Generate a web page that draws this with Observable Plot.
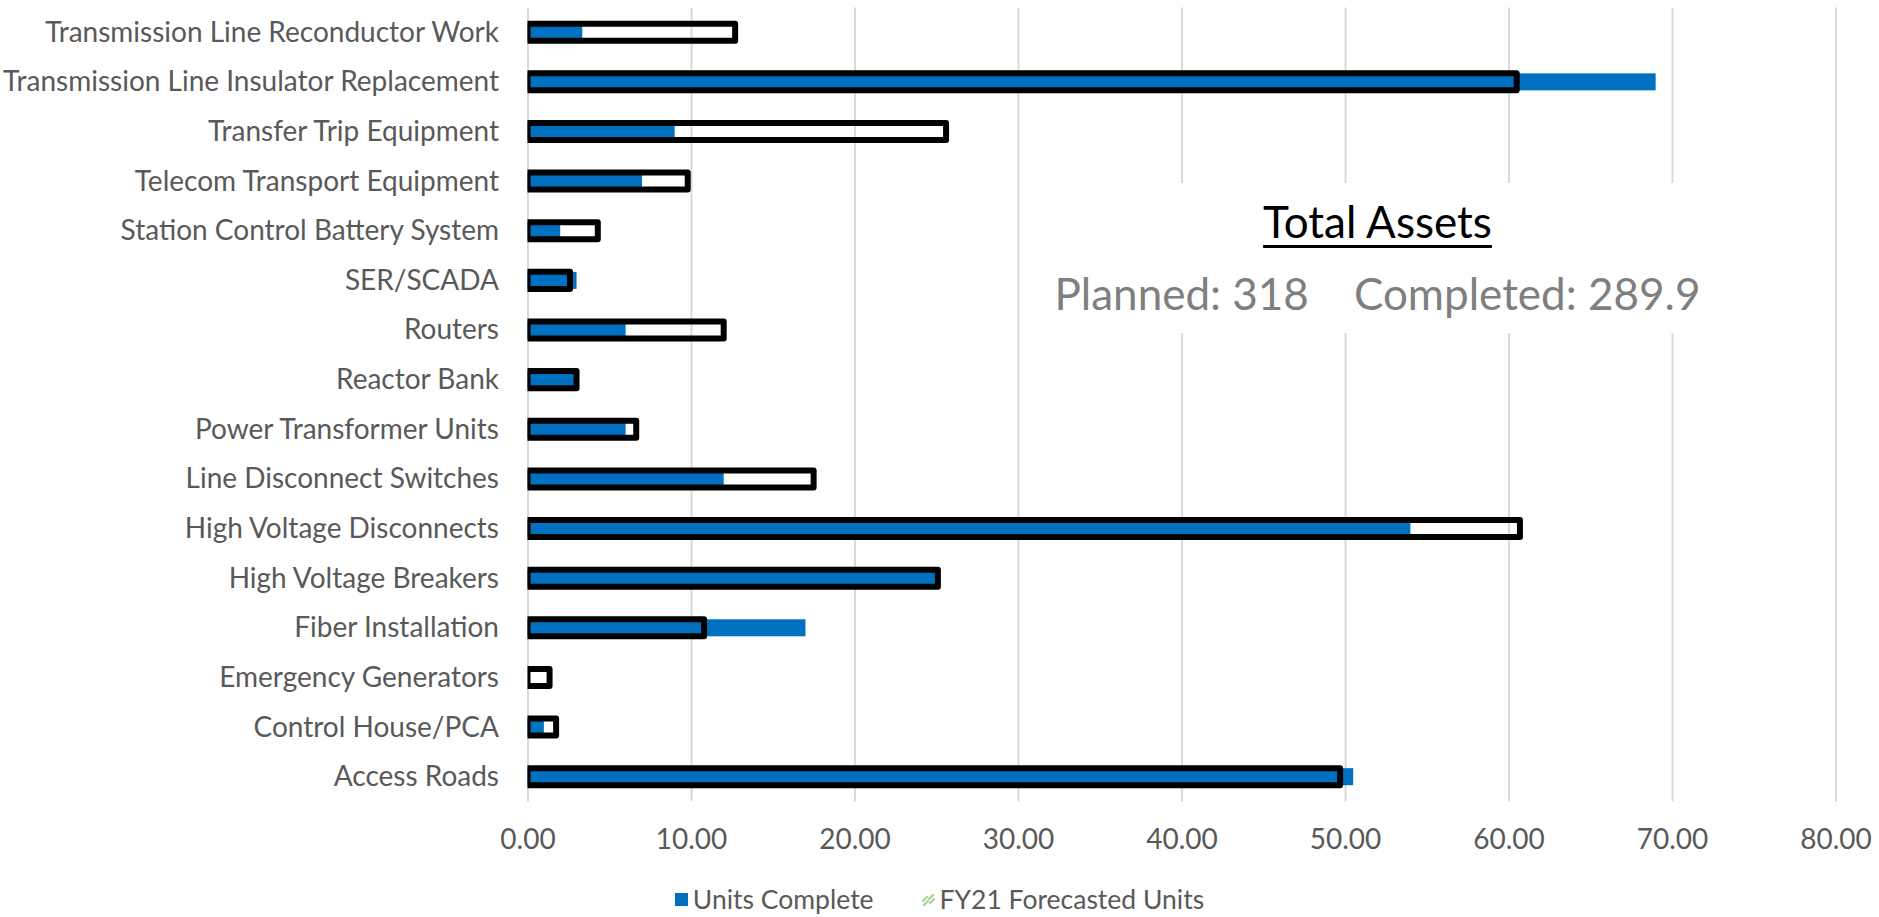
<!DOCTYPE html>
<html>
<head>
<meta charset="utf-8">
<script src="https://cdn.jsdelivr.net/npm/d3@7"></script>
<script src="https://cdn.jsdelivr.net/npm/@observablehq/plot@0.6"></script>
<style>
  html, body { margin: 0; padding: 0; background: white; }
  #wrap { position: relative; width: 1879px; height: 917px; font-family: Lato, sans-serif; overflow: hidden; }
  #annot { position: absolute; left: 1040px; top: 183px; width: 675px; height: 150px; background: white; }
  #annot .t1 { position: absolute; left: 0; width: 100%; top: 16px; font-size: 44px; line-height: 44px; text-align: center; color: #000;
    text-decoration: underline; text-decoration-thickness: 3px; text-underline-offset: 7px; }
  #annot .t2 { position: absolute; left: 0; width: 100%; top: 88px; font-size: 44px; line-height: 44px; text-align: center; color: #7f7f7f; white-space: pre; }
  #legend { position: absolute; left: 0; top: 880px; width: 1879px; height: 38px; display: flex; justify-content: center; align-items: center;
    font-size: 26.5px; color: #595959; gap: 48px; }
  #legend .item { display: flex; align-items: center; gap: 5px; }
</style>
</head>
<body>
<div id="wrap">
  <div id="chart"></div>
  <div id="annot"><div class="t1">Total Assets</div><div class="t2">Planned: 318    Completed: 289.9</div></div>
  <div id="legend"></div>
</div>
<script>
const categories = [
  "Transmission Line Reconductor Work",
  "Transmission Line Insulator Replacement",
  "Transfer Trip Equipment",
  "Telecom Transport Equipment",
  "Station Control Battery System",
  "SER/SCADA",
  "Routers",
  "Reactor Bank",
  "Power Transformer Units",
  "Line Disconnect Switches",
  "High Voltage Disconnects",
  "High Voltage Breakers",
  "Fiber Installation",
  "Emergency Generators",
  "Control House/PCA",
  "Access Roads"
];
const unitsComplete = [3.35, 69.0, 9.0, 7.0, 2.0, 3.0, 6.0, 3.0, 6.0, 12.0, 54.0, 25.0, 17.0, 0, 1.0, 50.5];
const forecastUnits = [12.7, 60.5, 25.6, 9.8, 4.3, 2.6, 12.0, 3.0, 6.65, 17.5, 60.7, 25.1, 10.8, 1.35, 1.75, 49.7];
const xTicks = [0, 10, 20, 30, 40, 50, 60, 70, 80];
const seriesNames = ["Units Complete", "FY21 Forecasted Units"];

const data = categories.map((c, i) => ({category: c, complete: unitsComplete[i], forecast: forecastUnits[i]}));

const chart = Plot.plot({
  width: 1879,
  height: 870,
  marginLeft: 527.5,
  marginRight: 43.5,
  marginTop: 7.4,
  marginBottom: 68.5,
  style: {fontFamily: "Lato, sans-serif", fontSize: "28px", color: "#595959", background: "white"},
  x: {domain: [0, 80], ticks: xTicks, tickFormat: d3.format(".2f"), tickSize: 0, tickPadding: 27, label: null},
  y: {domain: categories, paddingInner: 0.657, paddingOuter: 0.3285, round: false, tickSize: 0, tickPadding: 29, label: null},
  marks: [
    Plot.ruleX(xTicks, {stroke: "#d9d9d9", strokeWidth: 2}),
    Plot.barX(data, {x: "complete", y: "category", fill: "#0070C0"}),
    Plot.barX(data, {x: "forecast", y: "category", fill: "none", stroke: "#000", strokeWidth: 6, strokeLinejoin: "round", clip: true})
  ]
});
document.getElementById("chart").appendChild(chart);

const legend = document.getElementById("legend");
const sw1 = `<svg width="13" height="13"><rect width="13" height="13" fill="#0070C0"/></svg>`;
const sw2 = `<svg width="13" height="13"><g stroke="#a9d18e" stroke-width="2.2" stroke-linecap="round">
  <line x1="1" y1="8" x2="5" y2="4"/><line x1="7" y1="6" x2="11" y2="2"/><line x1="2" y1="12" x2="6" y2="8"/><line x1="8" y1="10" x2="12" y2="6"/></g></svg>`;
[sw1, sw2].forEach((sw, i) => {
  const it = document.createElement("div");
  it.className = "item";
  it.innerHTML = sw + `<span>${seriesNames[i]}</span>`;
  legend.appendChild(it);
});
</script>
</body>
</html>
